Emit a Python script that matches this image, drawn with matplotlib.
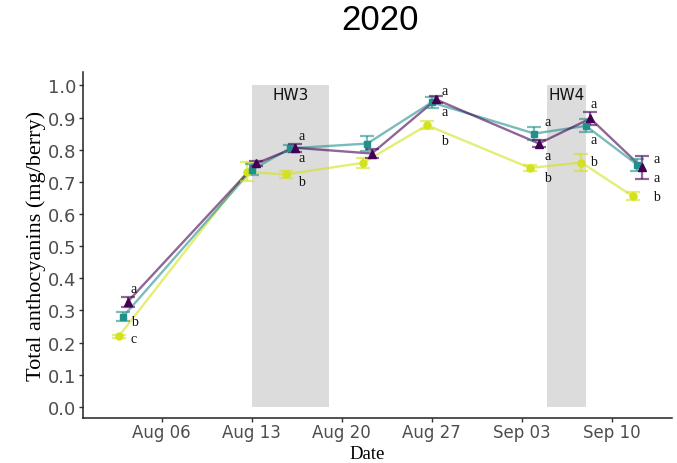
import numpy as np
import pandas as pd
import matplotlib
matplotlib.use("Agg")
import matplotlib.pyplot as plt
import matplotlib.dates as mdates

# sampling dates and mean anthocyanin content per treatment
dates = pd.to_datetime(["2020-08-03", "2020-08-13", "2020-08-16", "2020-08-22",
                        "2020-08-27", "2020-09-04", "2020-09-08", "2020-09-12"])
tri_vals = [0.327, 0.757, 0.806, 0.788, 0.956, 0.819, 0.897, 0.745]
tri_se = [0.015, 0.008, 0.012, 0.015, 0.012, 0.010, 0.020, 0.036]
sq_vals = [0.281, 0.737, 0.804, 0.819, 0.947, 0.850, 0.874, 0.753]
sq_se = [0.014, 0.017, 0.010, 0.022, 0.018, 0.020, 0.020, 0.018]
dot_vals = [0.219, 0.731, 0.723, 0.759, 0.876, 0.743, 0.760, 0.655]
dot_se = [0.006, 0.030, 0.012, 0.016, 0.012, 0.010, 0.027, 0.012]

# heat waves
hw_names = ["HW3", "HW4"]
hw_start = pd.to_datetime(["2020-08-13", "2020-09-05"])
hw_end = pd.to_datetime(["2020-08-19", "2020-09-08"])

# significance letters (index of sampling date, letter, label height)
lab_idx = [0, 2, 4, 5, 6, 7]
lab_dx = [0.85, 0.9, 1.0, 1.0, 0.6, 1.5]
tri_letters = ["a", "a", "a", "a", "a", "a"]
tri_lab_y = [0.367, 0.845, 0.985, 0.783, 0.944, 0.712]
sq_letters = ["b", "a", "a", "a", "a", "a"]
sq_lab_y = [0.266, 0.776, 0.918, 0.887, 0.832, 0.774]
dot_letters = ["c", "b", "b", "b", "b", "b"]
dot_lab_y = [0.212, 0.700, 0.830, 0.713, 0.764, 0.653]

fig = plt.figure(figsize=(6.77, 4.64), dpi=100)
ax = fig.add_axes([0.1226, 0.096, 0.870, 0.747])

for name, s, e in zip(hw_names, hw_start, hw_end):
    x0, x1 = mdates.date2num(s), mdates.date2num(e)
    ax.fill_between([x0, x1], 0, 1.0, color="#dcdcdc", lw=0, zorder=0)
    ax.text((x0 + x1) / 2, 0.972, name, ha="center", va="center",
            fontsize=11, family="DejaVu Sans", color="#111111")

xd = mdates.date2num(dates)
series = [
    (dot_vals, dot_se, -0.35, "#d2e21b", "o", 5, dot_letters, dot_lab_y),
    (sq_vals, sq_se, 0.0, "#21908c", "s", 5, sq_letters, sq_lab_y),
    (tri_vals, tri_se, 0.35, "#440154", "^", 6, tri_letters, tri_lab_y),
]
for vals, se, dx, col, mk, ms, letters, lab_y in series:
    x = xd + dx
    ax.plot(x, vals, color=col, lw=1.7, alpha=0.6, zorder=2)
    ax.errorbar(x, vals, yerr=se, fmt="none", ecolor=col, elinewidth=1.6,
                capsize=5, capthick=1.6, alpha=0.6, zorder=3)
    ax.plot(x, vals, ls="none", marker=mk, ms=ms, color=col, zorder=4)
    for k, i in enumerate(lab_idx):
        ax.text(xd[i] + lab_dx[k], lab_y[k], letters[k], ha="center", va="center",
                fontsize=10, family="Liberation Serif", color="#111111")

ax.set_xlim(mdates.date2num(pd.Timestamp("2020-07-30")) + 0.88,
            mdates.date2num(pd.Timestamp("2020-09-14")) + 0.7)
ax.set_ylim(-0.036, 1.042)
ax.set_yticks(np.arange(0, 1.01, 0.1))
ax.yaxis.set_major_formatter(matplotlib.ticker.FormatStrFormatter("%.1f"))
ax.set_xticks(mdates.date2num(pd.date_range("2020-08-06", "2020-09-10", freq="7D")))
ax.xaxis.set_major_formatter(mdates.DateFormatter("%b %d"))

for side in ["top", "right"]:
    ax.spines[side].set_visible(False)
for side in ["left", "bottom"]:
    ax.spines[side].set_color("#222222")
    ax.spines[side].set_linewidth(1.1)
ax.tick_params(axis="both", length=3, width=1, color="#333333",
               labelcolor="#4d4d4d", labelsize=13)
ax.tick_params(axis="x", pad=0.5, labelsize=12)
ax.tick_params(axis="y", pad=2)
for t in ax.get_xticklabels() + ax.get_yticklabels():
    t.set_family("DejaVu Sans")

fig.text(0.543, 0.0194, "Date", ha="center", va="center",
         family="Liberation Serif", fontsize=13.5)
ax.set_ylabel("Total anthocyanins (mg/berry)", family="Liberation Serif",
              fontsize=16, labelpad=1)
fig.text(0.561, 0.955, "2020", ha="center", va="center",
         family="Liberation Sans", fontsize=25)

fig.savefig("out.png", dpi=100)
